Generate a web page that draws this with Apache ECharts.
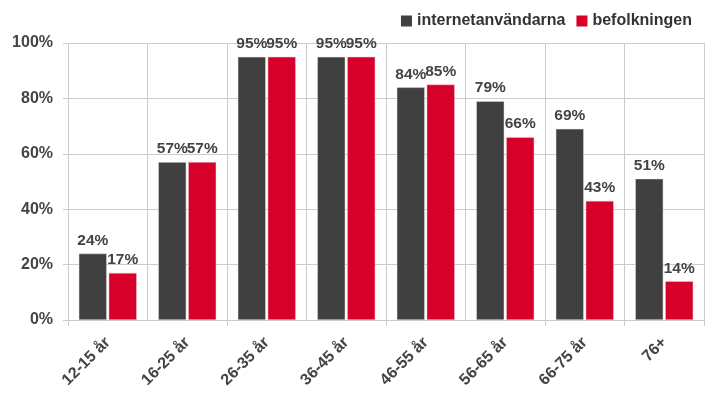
<!DOCTYPE html>
<html><head><meta charset="utf-8">
<script src="https://cdn.jsdelivr.net/npm/echarts@6/dist/echarts.min.js"></script>
<style>html,body{margin:0;padding:0;background:#fff}#c{width:706px;height:395px}</style>
</head><body><div id="c"></div>
<script>
const categories = ['12-15 år','16-25 år','26-35 år','36-45 år','46-55 år','56-65 år','66-75 år','76+'];
const internetanvandarna = [24,57,95,95,84,79,69,51];
const befolkningen = [17,57,95,95,85,66,43,14];
const yTicks = [0,20,40,60,80,100];
const F = '"Liberation Sans", Arial, sans-serif';
const chart = echarts.init(document.getElementById('c'));
const lbl = {show:true, position:'top', distance:5, formatter:'{c}%', color:'#444', fontFamily:F, fontWeight:'bold', fontSize:15.5};
chart.setOption({
  animation:false,
  legend:{right:9, top:8, itemWidth:11, itemHeight:11, itemGap:11,
    itemStyle:{borderWidth:0},
    textStyle:{fontFamily:F, fontSize:16, color:'#333', fontWeight:'bold'}, icon:'rect'},
  grid:{left:68, right:2, top:43, bottom:75},
  xAxis:{type:'category', data:categories,
    axisLine:{show:true, lineStyle:{color:'#ccc'}},
    axisTick:{show:true, interval:1, length:6, lineStyle:{color:'#ccc'}},
    splitLine:{show:true, interval:0, lineStyle:{color:'#ccc'}},
    axisLabel:{rotate:45, interval:0, margin:20, color:'#444', fontFamily:F, fontWeight:'bold', fontSize:16}},
  yAxis:{type:'value', min:yTicks[0], max:yTicks[yTicks.length-1], interval:20,
    axisLine:{show:false},
    axisTick:{show:true, length:5, lineStyle:{color:'#ccc'}},
    splitLine:{lineStyle:{color:'#ccc'}},
    axisLabel:{formatter:'{value}%', color:'#444', fontFamily:F, fontWeight:'bold', fontSize:16, margin:15}},
  series:[
    {name:'internetanvändarna', type:'bar', data:internetanvandarna, barWidth:28, barGap:'7%',
     itemStyle:{color:'#404040', borderColor:'#e0e0e0', borderWidth:0.5}, label:lbl},
    {name:'befolkningen', type:'bar', data:befolkningen, barWidth:28,
     itemStyle:{color:'#d6002a', borderColor:'#f0c0c8', borderWidth:0.5}, label:lbl}
  ]
});
</script></body></html>
